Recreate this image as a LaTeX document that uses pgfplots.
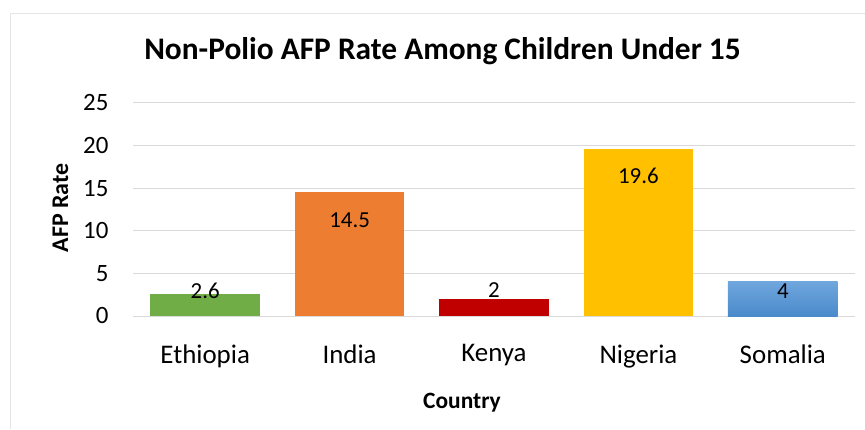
\documentclass[border=0pt]{standalone}
\usepackage{pgfplots}
\pgfplotsset{compat=1.18}
\usepackage{fontspec}
\setmainfont{Carlito}
\definecolor{cEth}{HTML}{70AD47}
\definecolor{cInd}{HTML}{ED7D31}
\definecolor{cKen}{HTML}{C00000}
\definecolor{cNig}{HTML}{FFC000}
\definecolor{cSomT}{HTML}{6FA6DD}
\definecolor{cSomB}{HTML}{4A8ACB}
\definecolor{gridc}{HTML}{D9D9D9}
\begin{document}
\begin{tikzpicture}[x=1bp,y=1bp]
\useasboundingbox (0,0) rectangle (865,429);
\draw[color=gridc!70, line width=1bp] (10,0) -- (10,415) -- (865,415);
\node[font=\fontsize{31.5}{36}\selectfont\bfseries, anchor=base] at (442.5,370) {Non-Polio AFP Rate Among Children Under 15};
\node[font=\fontsize{23.5}{27}\selectfont\bfseries, anchor=base] at (462,21) {Country};
\node[font=\fontsize{24}{28}\selectfont\bfseries, anchor=base, rotate=90] at (68,221) {AFP Rate};
\begin{axis}[
    at={(133bp,113bp)}, anchor=south west,
    scale only axis, width=722bp, height=213bp,
    xmin=-0.5, xmax=4.5, ymin=0, ymax=25,
    ybar, bar width=0.76, bar shift=0pt,
    ytick={0,5,...,25},
    xtick={0,1,2,3,4},
    xticklabels={Ethiopia,India,Kenya,Nigeria,Somalia},
    ymajorgrids, grid style={color=gridc, line width=1bp},
    axis line style={draw=none},
    major tick length=0pt,
    /pgf/number format/assume math mode=true,
    yticklabel style={font=\fontsize{25}{29}\selectfont, xshift=-21bp},
    xticklabel style={font=\fontsize{27}{31}\selectfont, yshift=-25bp},
    clip=false,
]
\addplot[fill=cEth, draw=none] coordinates {(0,2.6)};
\addplot[fill=cInd, draw=none] coordinates {(1,14.5)};
\addplot[fill=cKen, draw=none] coordinates {(2,2)};
\addplot[fill=cNig, draw=none] coordinates {(3,19.6)};
\addplot[top color=cSomT, bottom color=cSomB, draw=none] coordinates {(4,4)};
% data labels (inside end, as placed in the chart)
\addplot[draw=none, fill=none, nodes near coords, point meta=explicit symbolic,
    every node near coord/.style={anchor=center, font=\fontsize{23}{27}\selectfont}]
    coordinates {(0,3.0)[2.6] (1,11.3)[14.5] (2,3.0)[2] (3,16.4)[19.6] (4,2.95)[4]};
\end{axis}
\end{tikzpicture}
\end{document}
